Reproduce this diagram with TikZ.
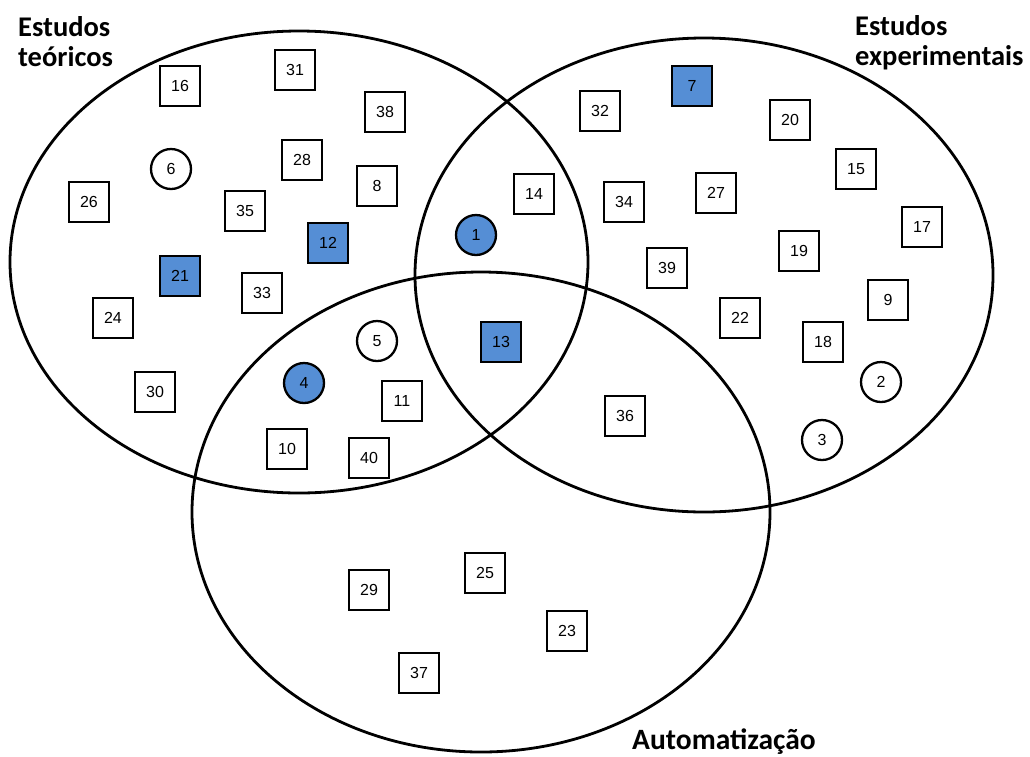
\documentclass[tikz,border=0pt]{standalone}
\usepackage{fontspec}
\newfontfamily\numfont{Liberation Sans}
\newfontfamily\titlefont{Carlito}
\definecolor{venblue}{RGB}{85,142,213}
\begin{document}
\begin{tikzpicture}[x=1pt,y=-1pt,
  sq/.style={draw, line width=2.3pt, minimum size=40pt, inner sep=0pt, font=\numfont\fontsize{16}{16}\selectfont},
  rd/.style={circle, draw, line width=2.3pt, minimum size=40pt, inner sep=0pt, font=\numfont\fontsize{16}{16}\selectfont},
  hl/.style={fill=venblue},
  setline/.style={line width=2.8pt},
  ttl/.style={inner sep=0pt, anchor=base west, font=\titlefont\bfseries\fontsize{28.5}{30}\selectfont}
]
\useasboundingbox (0,0) rectangle (1030,756);
\fill[white] (0,0) rectangle (1030,756);
% sets
\draw[setline] (299,262) ellipse [x radius=289pt, y radius=231pt];
\draw[setline] (704,275) ellipse [x radius=289pt, y radius=237pt];
\draw[setline] (481,512) ellipse [x radius=289pt, y radius=240pt];
% titles
\node[ttl] (t1) at (18,36) {Estudos};
\node[ttl] (t2) at (18,66) {teóricos};
\node[ttl] (t3) at (855,35) {Estudos};
\node[ttl] (t4) at (855,65) {experimentais};
\node[ttl, font=\titlefont\bfseries\fontsize{29.5}{30}\selectfont] (t5) at (632,749) {Automatização};
% theoretical only
\node[sq] (n16) at (180,86) {16};
\node[sq] (n31) at (295,70) {31};
\node[sq] (n38) at (385,112) {38};
\node[rd] (n6) at (171,169) {6};
\node[sq] (n28) at (302,160) {28};
\node[sq] (n8) at (377,186) {8};
\node[sq] (n26) at (89,202) {26};
\node[sq] (n35) at (245,211) {35};
\node[sq,hl] (n12) at (328,243) {12};
\node[sq,hl] (n21) at (180,276) {21};
\node[sq] (n33) at (262,293) {33};
\node[sq] (n24) at (113,318) {24};
\node[sq] (n30) at (155,392) {30};
% theoretical & automation
\node[rd] (n5) at (377,341) {5};
\node[rd,hl] (n4) at (304,383) {4};
\node[sq] (n11) at (402,401) {11};
\node[sq] (n10) at (287,449) {10};
\node[sq] (n40) at (369,458) {40};
% theoretical & experimental
\node[sq] (n14) at (534,194) {14};
\node[rd,hl] (n1) at (476,235) {1};
% all three
\node[sq,hl] (n13) at (501,342) {13};
% experimental
\node[sq] (n32) at (600,111) {32};
\node[sq,hl] (n7) at (692,86) {7};
\node[sq] (n20) at (790,120) {20};
\node[sq] (n34) at (624,202) {34};
\node[sq] (n27) at (716,193) {27};
\node[sq] (n15) at (856,169) {15};
\node[sq] (n17) at (922,227) {17};
\node[sq] (n19) at (799,251) {19};
\node[sq] (n39) at (667,268) {39};
\node[sq] (n9) at (888,300) {9};
\node[sq] (n22) at (740,318) {22};
\node[sq] (n18) at (823,342) {18};
\node[rd] (n2) at (881,382) {2};
\node[rd] (n3) at (822,440) {3};
% experimental & automation
\node[sq] (n36) at (625,416) {36};
% automation only
\node[sq] (n29) at (369,590) {29};
\node[sq] (n25) at (485,573) {25};
\node[sq] (n23) at (567,631) {23};
\node[sq] (n37) at (419,673) {37};
\end{tikzpicture}
\end{document}
